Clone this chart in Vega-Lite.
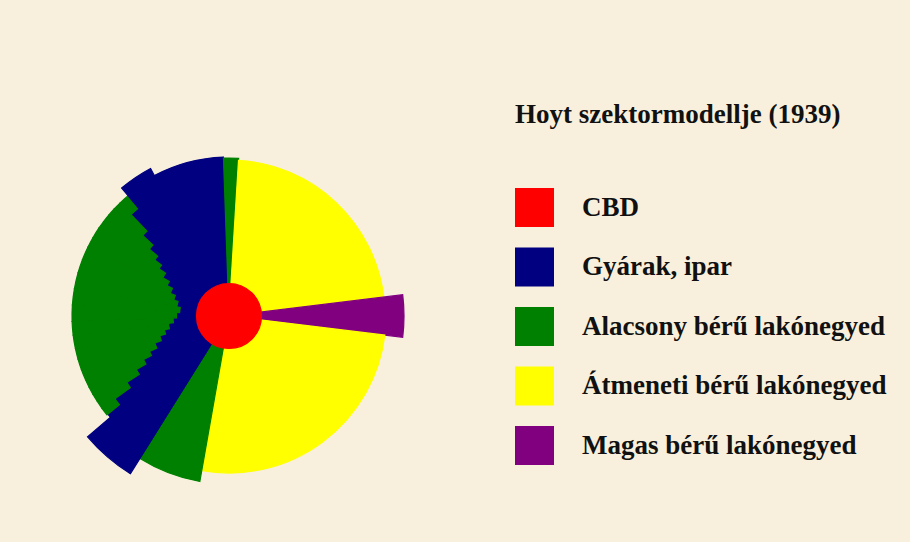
{
  "$schema": "https://vega.github.io/schema/vega-lite/v6.json",
  "autosize": "none",
  "width": 458,
  "height": 452,
  "padding": {"left": 0, "top": 90, "right": 452, "bottom": 0},
  "background": "#f8f0dc",
  "config": {"view": {"stroke": null}},
  "data": {
    "values": [
      {"zone": "Gyárak, ipar", "a0": 229, "a1": 320, "r0": 0, "r1": 156},
      {"zone": "Alacsony bérű lakónegyed", "a0": 231, "a1": 234, "r0": 141, "r1": 157},
      {"zone": "Alacsony bérű lakónegyed", "a0": 234, "a1": 237, "r0": 122, "r1": 157},
      {"zone": "Alacsony bérű lakónegyed", "a0": 237, "a1": 240, "r0": 107, "r1": 157},
      {"zone": "Alacsony bérű lakónegyed", "a0": 240, "a1": 243, "r0": 96, "r1": 157},
      {"zone": "Alacsony bérű lakónegyed", "a0": 243, "a1": 246, "r0": 87, "r1": 157},
      {"zone": "Alacsony bérű lakónegyed", "a0": 246, "a1": 250, "r0": 79, "r1": 157},
      {"zone": "Alacsony bérű lakónegyed", "a0": 250, "a1": 254, "r0": 72, "r1": 157},
      {"zone": "Alacsony bérű lakónegyed", "a0": 254, "a1": 258, "r0": 66, "r1": 157},
      {"zone": "Alacsony bérű lakónegyed", "a0": 258, "a1": 263, "r0": 61, "r1": 157},
      {"zone": "Alacsony bérű lakónegyed", "a0": 263, "a1": 268, "r0": 56, "r1": 157},
      {"zone": "Alacsony bérű lakónegyed", "a0": 268, "a1": 274, "r0": 52.5, "r1": 157},
      {"zone": "Alacsony bérű lakónegyed", "a0": 274, "a1": 280, "r0": 49.5, "r1": 157},
      {"zone": "Alacsony bérű lakónegyed", "a0": 280, "a1": 286, "r0": 53, "r1": 157},
      {"zone": "Alacsony bérű lakónegyed", "a0": 286, "a1": 291, "r0": 57.5, "r1": 157},
      {"zone": "Alacsony bérű lakónegyed", "a0": 291, "a1": 296, "r0": 63, "r1": 157},
      {"zone": "Alacsony bérű lakónegyed", "a0": 296, "a1": 300, "r0": 69, "r1": 157},
      {"zone": "Alacsony bérű lakónegyed", "a0": 300, "a1": 304, "r0": 76.5, "r1": 157},
      {"zone": "Alacsony bérű lakónegyed", "a0": 304, "a1": 307, "r0": 84.5, "r1": 157},
      {"zone": "Alacsony bérű lakónegyed", "a0": 307, "a1": 310, "r0": 93, "r1": 157},
      {"zone": "Alacsony bérű lakónegyed", "a0": 310, "a1": 313, "r0": 104, "r1": 157},
      {"zone": "Alacsony bérű lakónegyed", "a0": 313, "a1": 316, "r0": 118, "r1": 157},
      {"zone": "Alacsony bérű lakónegyed", "a0": 316, "a1": 320, "r0": 141, "r1": 157},
      {"zone": "Gyárak, ipar", "a0": 320, "a1": 332, "r0": 0, "r1": 167},
      {"zone": "Gyárak, ipar", "a0": 332, "a1": 358, "r0": 0, "r1": 159},
      {"zone": "Alacsony bérű lakónegyed", "a0": 358, "a1": 363.5, "r0": 0, "r1": 158},
      {"zone": "Átmeneti bérű lakónegyed", "a0": 3.5, "a1": 83, "r0": 0, "r1": 156},
      {"zone": "Magas bérű lakónegyed", "a0": 83, "a1": 97, "r0": 0, "r1": 175},
      {"zone": "Átmeneti bérű lakónegyed", "a0": 97, "a1": 190, "r0": 0, "r1": 157},
      {"zone": "Alacsony bérű lakónegyed", "a0": 190, "a1": 212, "r0": 0, "r1": 168},
      {"zone": "Gyárak, ipar", "a0": 212, "a1": 229.5, "r0": 0, "r1": 186},
      {"zone": "CBD", "a0": 0, "a1": 360, "r0": 0, "r1": 32.5}
    ]
  },
  "mark": {"type": "arc", "strokeWidth": 1.2},
  "encoding": {
    "theta": {"field": "a0", "type": "quantitative", "stack": null,
      "scale": {"type": "linear", "domain": [0, 360], "range": [0, 6.283185307179586]}},
    "theta2": {"field": "a1"},
    "radius": {"field": "r1", "type": "quantitative",
      "scale": {"type": "linear", "domain": [0, 200], "range": [0, 200], "zero": true}},
    "radius2": {"field": "r0"},
    "color": {
      "field": "zone", "type": "nominal",
      "scale": {
        "domain": ["CBD", "Gyárak, ipar", "Alacsony bérű lakónegyed", "Átmeneti bérű lakónegyed", "Magas bérű lakónegyed"],
        "range": ["#ff0000", "#000080", "#008000", "#ffff00", "#800080"]
      },
      "legend": {
        "orient": "none", "legendX": 515, "legendY": 12, "padding": 0,
        "title": "Hoyt szektormodellje (1939)",
        "titleFont": "Liberation Serif", "titleFontSize": 27, "titleFontWeight": "bold",
        "titleColor": "#111111", "titlePadding": 59, "titleLimit": 500,
        "labelFont": "Liberation Serif", "labelFontSize": 27, "labelFontWeight": "bold",
        "labelColor": "#111111", "labelOffset": 28, "labelLimit": 500,
        "symbolType": "square", "symbolSize": 1521, "symbolStrokeWidth": 0,
        "symbolOpacity": 1, "rowPadding": 20.5
      }
    },
    "stroke": {
      "field": "zone", "type": "nominal", "legend": null,
      "scale": {
        "domain": ["CBD", "Gyárak, ipar", "Alacsony bérű lakónegyed", "Átmeneti bérű lakónegyed", "Magas bérű lakónegyed"],
        "range": ["#ff0000", "#000080", "#008000", "#ffff00", "#800080"]
      }
    }
  }
}
